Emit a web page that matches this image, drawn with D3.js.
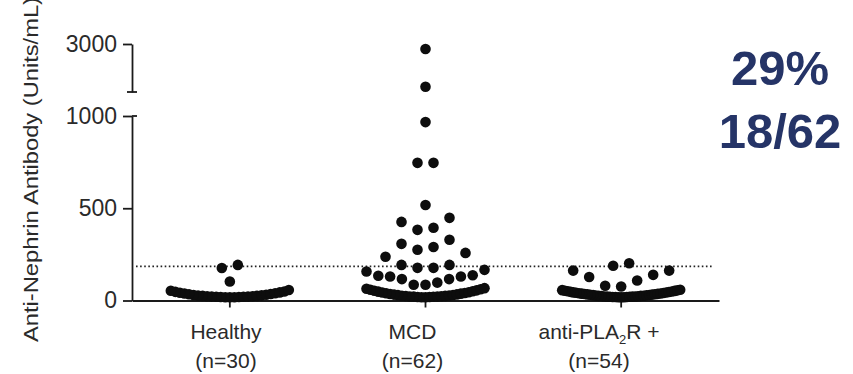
<!DOCTYPE html>
<html>
<head>
<meta charset="utf-8">
<script src="https://cdnjs.cloudflare.com/ajax/libs/d3/7.8.5/d3.min.js"></script>
<style>
  body { margin: 0; background: #fff; }
  text { font-family: "Liberation Sans", Arial, sans-serif; }
  .axis path, .axis line { stroke: #1a1a1a; stroke-width: 1.8; }
  .axis text { font-size: 23px; fill: #2a2a2a; }
  .cap { stroke: #1a1a1a; stroke-width: 1.8; }
  .dot { fill: #0d0d0d; }
  .cut { stroke: #222; stroke-width: 1.9; stroke-dasharray: 1.6,2.5; }
  .lab { font-size: 21px; fill: #2a2a2a; }
  .big { font-size: 49px; font-weight: bold; fill: #253467; }
</style>
</head>
<body>
<svg width="853" height="374" class="swarm"></svg>
<script>

let groups = ["Healthy", "MCD", "anti-PLA2R +"];
let groupN = ["(n=30)", "(n=62)", "(n=54)"];

// antibody levels, Units/mL
let healthy = [18, 18, 18, 19, 19, 20, 20, 21, 21, 23, 23, 25, 25, 27, 28, 30, 31,
  34, 35, 38, 39, 42, 44, 47, 49, 53, 57, 103, 176, 193];
let mcd = [18, 18, 19, 19, 20, 21, 21, 22, 23, 24, 25, 26, 27, 29, 30, 32, 33, 35, 37,
  39, 41, 43, 45, 48, 50, 53, 55, 58, 61, 64, 67,
  85, 85, 97, 116, 116, 130, 130, 134, 137, 157, 166,
  177, 177, 193, 193, 237, 258,
  275, 290, 307, 329,
  383, 394, 426, 448,
  518, 746, 746, 967, 1220, 2790];
let pla2r = [18, 18, 18, 19, 19, 19, 20, 20, 21, 21, 22, 22, 23, 24, 25, 25, 26, 27, 28,
  29, 30, 31, 32, 33, 34, 35, 36, 37, 38, 39, 41, 42, 43, 44, 46, 47, 49, 50, 52,
  53, 55, 56, 58,
  76, 80, 108, 127, 139, 162, 162, 188, 202];

let cutoff = 185;
let lowTicks = [0, 500, 1000];
let highTicks = [3000];
let percentText = "29%";
let ratioText = "18/62";

let svg = d3.select(".swarm");

let x = d3.scaleBand().domain(groups).range([132, 719]);
let labelX = d3.scalePoint().domain(groups).range([226, 599]);
let yLow = d3.scaleLinear().domain([0, 1000]).range([300.5, 116]);
let yHigh = d3.scaleLinear().domain([1000, 3000]).range([92, 44]);
let yPos = v => v <= 1000 ? yLow(v) : yHigh(v);

// binned scatter like prism: rows by value, spread from the middle
let binW = 96, binStart = -24, maxStep = 16, maxWidth = 118;
function swarm(values, cx) {
  let out = [];
  let bins = d3.groups(values, v => v > 1000 ? "h" + v : Math.floor((v - binStart) / binW));
  bins.forEach(([key, vals]) => {
    vals = vals.slice().sort(d3.ascending);
    let n = vals.length;
    let step = n > 1 ? Math.min(maxStep, maxWidth / (n - 1)) : 0;
    vals.forEach((v, i) => {
      let slot = n % 2
        ? (i % 2 ? -1 : 1) * Math.ceil(i / 2)
        : (i % 2 ? 1 : -1) * (Math.floor(i / 2) + 0.5);
      out.push({ v: v, cx: cx + slot * step, cy: yPos(v) });
    });
  });
  return out;
}

// axes
svg.append("g")
    .attr("class", "axis")
    .attr("transform", "translate(0," + yLow(0) + ")")
    .call(d3.axisBottom(x).tickSize(7).tickSizeOuter(0).tickFormat(""));

svg.append("g")
    .attr("class", "axis")
    .attr("transform", "translate(132,0)")
    .call(d3.axisLeft(yLow).tickValues(lowTicks).tickSize(9).tickSizeOuter(0)
      .tickPadding(6).tickFormat(d3.format("d")));

svg.append("g")
    .attr("class", "axis")
    .attr("transform", "translate(132,0)")
    .call(d3.axisLeft(yHigh).tickValues(highTicks).tickSize(9).tickSizeOuter(0)
      .tickPadding(6).tickFormat(d3.format("d")));

svg.append("line").attr("class", "cap")
    .attr("x1", 127).attr("x2", 137).attr("y1", yHigh(1000)).attr("y2", yHigh(1000));
svg.append("line").attr("class", "cap")
    .attr("x1", 132).attr("x2", 137).attr("y1", yLow(1000)).attr("y2", yLow(1000));

// cutoff
svg.append("line").attr("class", "cut")
    .attr("x1", x.range()[0] + 4).attr("x2", x.range()[1] - 6)
    .attr("y1", yLow(cutoff)).attr("y2", yLow(cutoff));

// dots
let all = [healthy, mcd, pla2r];
all.forEach((vals, i) => {
  let pts = swarm(vals, x(groups[i]) + x.bandwidth() / 2);
  svg.append("g").selectAll("circle")
    .data(pts)
    .enter().append("circle")
      .attr("class", "dot")
      .attr("cx", d => d.cx)
      .attr("cy", d => d.cy)
      .attr("r", 5.3);
});

// category labels
groups.forEach((g, i) => {
  let t = svg.append("text").attr("class", "lab")
      .attr("x", labelX(g)).attr("y", 339).attr("text-anchor", "middle");
  let m = g.match(/^(.*PLA)2(R.*)$/);
  if (m) {
    t.append("tspan").text(m[1]);
    t.append("tspan").attr("font-size", 13).attr("dy", 5).text("2");
    t.append("tspan").attr("dy", -5).text(m[2]);
  } else {
    t.text(g);
  }
  svg.append("text").attr("class", "lab")
      .attr("x", labelX(g)).attr("y", 368).attr("text-anchor", "middle")
      .text(groupN[i]);
});

// y title
svg.append("text")
    .attr("class", "lab")
    .attr("transform", "rotate(-90)")
    .attr("x", -342).attr("y", 37.5)
    .attr("textLength", 345).attr("lengthAdjust", "spacingAndGlyphs")
    .text("Anti-Nephrin Antibody (Units/mL)");

svg.append("text").attr("class", "big")
    .attr("x", 780).attr("y", 85).attr("text-anchor", "middle").text(percentText);
svg.append("text").attr("class", "big")
    .attr("x", 780).attr("y", 148).attr("text-anchor", "middle").text(ratioText);

</script>
</body>
</html>
